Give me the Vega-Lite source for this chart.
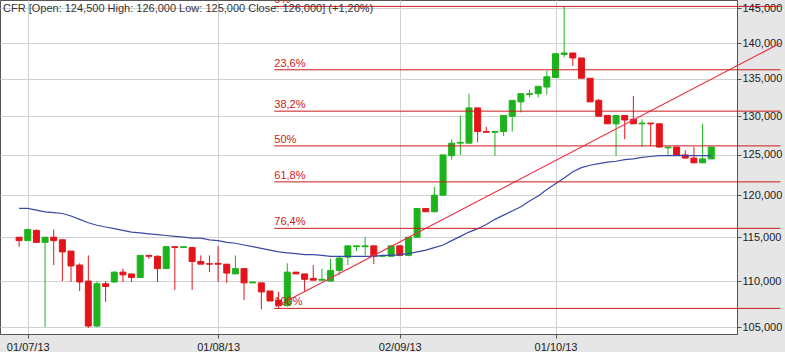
{
  "$schema": "https://vega.github.io/schema/vega-lite/v6.json",
  "width": 737,
  "height": 334,
  "padding": {"left": 0, "top": 0, "right": 48, "bottom": 18},
  "autosize": {"type": "none"},
  "background": "#e6e6e6",
  "config": {
    "view": {"fill": "white", "stroke": "#555555", "strokeWidth": 1},
    "font": "Liberation Sans",
    "axis": {"labelFont": "Liberation Sans", "labelFontSize": 11, "labelColor": "#222222", "gridColor": "#d2d2d2", "gridWidth": 1, "tickColor": "#555555", "domainColor": "#555555", "tickSize": 4, "title": null}
  },
  "title": {"text": "CFR [Open: 124,500  High: 126,000  Low: 125,000  Close: 126,000] (+1,20%)", "anchor": "start", "frame": "group", "orient": "top", "offset": -13, "dx": 3, "dy": 7, "fontSize": 11, "fontWeight": "normal", "font": "Liberation Sans", "color": "#333333"},
  "datasets": {
    "candles": [
      {"i":0,"o":115000,"h":115000,"l":113900,"c":114600,"ma":118400},
      {"i":1,"o":114600,"h":116000,"l":114600,"c":115900,"ma":118400},
      {"i":2,"o":115800,"h":115900,"l":114400,"c":114400,"ma":118200},
      {"i":3,"o":114400,"h":115000,"l":105000,"c":115000,"ma":118000},
      {"i":4,"o":115000,"h":115900,"l":111800,"c":114600,"ma":117900},
      {"i":5,"o":114700,"h":114700,"l":110000,"c":113300,"ma":117800},
      {"i":6,"o":113400,"h":113400,"l":109900,"c":111700,"ma":117500},
      {"i":7,"o":111800,"h":112000,"l":108900,"c":109900,"ma":117100},
      {"i":8,"o":110000,"h":112900,"l":104900,"c":105100,"ma":116700},
      {"i":9,"o":105100,"h":110000,"l":105000,"c":109700,"ma":116400},
      {"i":10,"o":109700,"h":110000,"l":107700,"c":109400,"ma":116200},
      {"i":11,"o":109900,"h":111100,"l":109800,"c":111000,"ma":116000},
      {"i":12,"o":111000,"h":111400,"l":109900,"c":110700,"ma":115800},
      {"i":13,"o":110800,"h":110800,"l":109900,"c":110400,"ma":115600},
      {"i":14,"o":110400,"h":112900,"l":110400,"c":112900,"ma":115500},
      {"i":15,"o":112900,"h":112900,"l":112500,"c":112800,"ma":115400},
      {"i":16,"o":112800,"h":112900,"l":109900,"c":111400,"ma":115300},
      {"i":17,"o":111400,"h":114000,"l":111400,"c":113900,"ma":115200},
      {"i":18,"o":113900,"h":113900,"l":109000,"c":113800,"ma":115100},
      {"i":19,"o":113800,"h":113900,"l":113800,"c":113900,"ma":115000},
      {"i":20,"o":113800,"h":113900,"l":109000,"c":112200,"ma":114900},
      {"i":21,"o":112200,"h":112900,"l":111900,"c":111900,"ma":114900},
      {"i":22,"o":111950,"h":112900,"l":111000,"c":111900,"ma":114700},
      {"i":23,"o":112000,"h":114000,"l":109900,"c":111900,"ma":114600},
      {"i":24,"o":111900,"h":111900,"l":109800,"c":110900,"ma":114400},
      {"i":25,"o":110800,"h":112900,"l":110800,"c":111400,"ma":114300},
      {"i":26,"o":111400,"h":111400,"l":107900,"c":109800,"ma":114100},
      {"i":27,"o":109800,"h":109900,"l":109800,"c":109900,"ma":113900},
      {"i":28,"o":109800,"h":109800,"l":106900,"c":108800,"ma":113700},
      {"i":29,"o":108900,"h":108900,"l":107800,"c":107800,"ma":113500},
      {"i":30,"o":107900,"h":108800,"l":107000,"c":107300,"ma":113300},
      {"i":31,"o":107300,"h":112000,"l":107200,"c":111000,"ma":113200},
      {"i":32,"o":111000,"h":111000,"l":110800,"c":110800,"ma":113100},
      {"i":33,"o":110800,"h":110800,"l":108800,"c":110200,"ma":113000},
      {"i":34,"o":110300,"h":111800,"l":110100,"c":110100,"ma":113000},
      {"i":35,"o":110100,"h":111400,"l":110100,"c":110200,"ma":112900},
      {"i":36,"o":110000,"h":112500,"l":110000,"c":111200,"ma":112800},
      {"i":37,"o":111200,"h":112700,"l":110700,"c":112600,"ma":112800},
      {"i":38,"o":112700,"h":114000,"l":111800,"c":114000,"ma":112800},
      {"i":39,"o":113900,"h":114000,"l":113400,"c":114000,"ma":112800},
      {"i":40,"o":113900,"h":115000,"l":112900,"c":114000,"ma":112800},
      {"i":41,"o":114000,"h":114000,"l":111900,"c":112800,"ma":112800},
      {"i":42,"o":112800,"h":112900,"l":112700,"c":112900,"ma":112900},
      {"i":43,"o":112800,"h":114000,"l":112800,"c":114000,"ma":112900},
      {"i":44,"o":114000,"h":114000,"l":112800,"c":112900,"ma":113000},
      {"i":45,"o":112900,"h":115000,"l":112800,"c":115000,"ma":113100},
      {"i":46,"o":115000,"h":118400,"l":115000,"c":118400,"ma":113300},
      {"i":47,"o":118400,"h":118400,"l":118000,"c":118000,"ma":113500},
      {"i":48,"o":118000,"h":121000,"l":118000,"c":120000,"ma":113800},
      {"i":49,"o":120000,"h":125000,"l":120000,"c":125000,"ma":114100},
      {"i":50,"o":124900,"h":127000,"l":124400,"c":126500,"ma":114600},
      {"i":51,"o":126500,"h":130100,"l":125000,"c":126600,"ma":115100},
      {"i":52,"o":126500,"h":133000,"l":126500,"c":131100,"ma":115600},
      {"i":53,"o":131100,"h":131100,"l":126600,"c":128000,"ma":116000},
      {"i":54,"o":128000,"h":128600,"l":127900,"c":127900,"ma":116500},
      {"i":55,"o":127900,"h":128000,"l":124900,"c":128000,"ma":117100},
      {"i":56,"o":128000,"h":130100,"l":127400,"c":130100,"ma":117600},
      {"i":57,"o":130000,"h":132100,"l":128000,"c":132100,"ma":118100},
      {"i":58,"o":131900,"h":133000,"l":130500,"c":133000,"ma":118600},
      {"i":59,"o":132900,"h":133500,"l":132500,"c":133000,"ma":119300},
      {"i":60,"o":133000,"h":134000,"l":132500,"c":134000,"ma":119900},
      {"i":61,"o":133900,"h":136100,"l":132900,"c":135300,"ma":120700},
      {"i":62,"o":135200,"h":138500,"l":135200,"c":138500,"ma":121400},
      {"i":63,"o":138400,"h":145300,"l":138000,"c":138600,"ma":122100},
      {"i":64,"o":138600,"h":138600,"l":136800,"c":137900,"ma":122900},
      {"i":65,"o":137900,"h":137900,"l":135100,"c":135100,"ma":123400},
      {"i":66,"o":135100,"h":135100,"l":131900,"c":131900,"ma":123700},
      {"i":67,"o":132100,"h":132300,"l":130000,"c":130000,"ma":123900},
      {"i":68,"o":130100,"h":130100,"l":129000,"c":129000,"ma":124100},
      {"i":69,"o":129000,"h":130100,"l":124900,"c":130100,"ma":124200},
      {"i":70,"o":130100,"h":130100,"l":127000,"c":129500,"ma":124400},
      {"i":71,"o":129600,"h":132700,"l":129000,"c":129000,"ma":124500},
      {"i":72,"o":129000,"h":129600,"l":126000,"c":129100,"ma":124700},
      {"i":73,"o":129100,"h":129100,"l":126100,"c":129000,"ma":124800},
      {"i":74,"o":129000,"h":129100,"l":126000,"c":126000,"ma":124900},
      {"i":75,"o":125900,"h":126000,"l":125000,"c":126000,"ma":124900},
      {"i":76,"o":126000,"h":126000,"l":125000,"c":125000,"ma":124950},
      {"i":77,"o":125000,"h":125600,"l":124600,"c":124600,"ma":124900},
      {"i":78,"o":124600,"h":126000,"l":124000,"c":124000,"ma":124900},
      {"i":79,"o":124000,"h":129000,"l":124000,"c":124500,"ma":124900},
      {"i":80,"o":124500,"h":126000,"l":124500,"c":126000,"ma":124900}
    ],
    "trend": [
      {"i": 29.7, "p": 107200},
      {"i": 88, "p": 140000}
    ],
    "fib": [
      {"lvl": "0%", "p": 145300},
      {"lvl": "23,6%", "p": 136261},
      {"lvl": "38,2%", "p": 130669},
      {"lvl": "50%", "p": 126150},
      {"lvl": "61,8%", "p": 121631},
      {"lvl": "76,4%", "p": 116039},
      {"lvl": "100%", "p": 107000}
    ]
  },
  "layer": [
    {
      "data": {"name": "candles"},
      "mark": {"type": "rule", "strokeWidth": 1, "clip": false},
      "encoding": {
        "x": {"field": "i", "type": "quantitative", "title": null,
              "scale": {"domain": [-1.63, 82.4], "nice": false, "zero": false},
              "axis": {"values": [1, 23, 44, 62], "labelExpr": "datum.value == 1 ? '01/07/13' : datum.value == 23 ? '01/08/13' : datum.value == 44 ? '02/09/13' : '01/10/13'", "labelFlush": false, "labelPadding": 3, "grid": true, "labelOverlap": false}},
        "y": {"field": "l", "type": "quantitative", "title": null,
              "scale": {"type": "log", "domain": [104258, 146245], "nice": false, "zero": false},
              "axis": {"orient": "right", "values": [105000, 110000, 115000, 120000, 125000, 130000, 135000, 140000, 145000], "format": ",d", "labelPadding": 1, "grid": true, "labelOverlap": false, "labelFlush": false}},
        "y2": {"field": "h"},
        "color": {"condition": {"test": "datum.c >= datum.o", "value": "#1db31d"}, "value": "#e3151b"}
      }
    },
    {
      "data": {"name": "candles"},
      "mark": {"type": "bar", "size": 6, "strokeWidth": 1, "clip": false},
      "encoding": {
        "x": {"field": "i", "type": "quantitative", "title": null},
        "y": {"field": "o", "type": "quantitative", "title": null},
        "y2": {"field": "c"},
        "fill": {"condition": {"test": "datum.c >= datum.o", "value": "#1db31d"}, "value": "#e3151b"},
        "stroke": {"condition": {"test": "datum.c >= datum.o", "value": "#1db31d"}, "value": "#e3151b"}
      }
    },
    {
      "data": {"name": "candles"},
      "mark": {"type": "line", "color": "#3a4aa6", "strokeWidth": 1.2, "clip": false},
      "encoding": {
        "x": {"field": "i", "type": "quantitative", "title": null},
        "y": {"field": "ma", "type": "quantitative", "title": null}
      }
    },
    {
      "data": {"name": "trend"},
      "mark": {"type": "line", "color": "#ec3348", "strokeWidth": 1.2, "clip": false},
      "encoding": {
        "x": {"field": "i", "type": "quantitative", "title": null},
        "y": {"field": "p", "type": "quantitative", "title": null}
      }
    },
    {
      "data": {"name": "fib"},
      "mark": {"type": "rule", "color": "#cc1a1a", "strokeWidth": 1, "clip": false},
      "encoding": {
        "x": {"datum": 29.5, "type": "quantitative", "title": null},
        "x2": {"datum": 88},
        "y": {"field": "p", "type": "quantitative", "title": null}
      }
    },
    {
      "data": {"name": "fib"},
      "mark": {"type": "text", "color": "#cc1a1a", "fontSize": 11, "font": "Liberation Sans", "align": "left", "baseline": "bottom", "dy": -1, "clip": false},
      "encoding": {
        "x": {"datum": 29.5, "type": "quantitative", "title": null},
        "y": {"field": "p", "type": "quantitative", "title": null},
        "text": {"field": "lvl"}
      }
    }
  ]
}
